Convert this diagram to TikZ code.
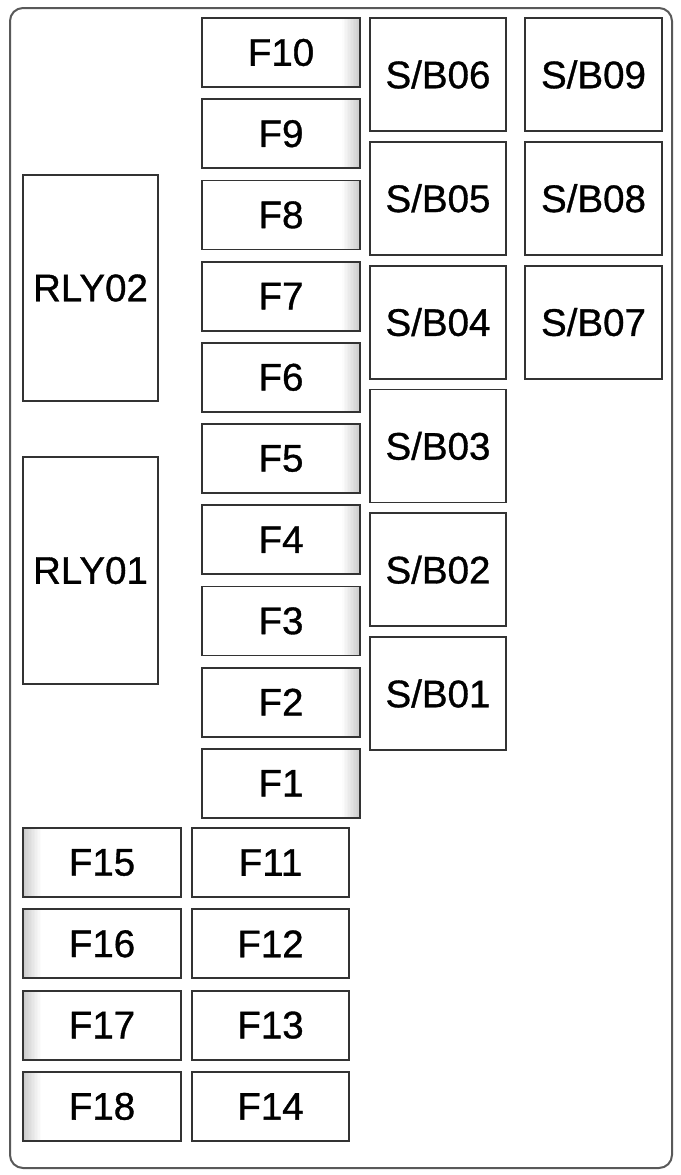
\documentclass[tikz,border=0pt]{standalone}
\usepackage{fontspec}
\setmainfont{Liberation Sans}
\newfontfamily\labfont{Liberation Sans}[FakeBold=0.9]
\begin{document}
\begin{tikzpicture}[x=1pt,y=-1pt,
  box/.style={draw=black!80,line width=1.8pt,fill=white,rectangle,inner sep=0pt,
    font=\labfont\fontsize{38.5}{38.5}\selectfont},
  fuse/.style={box,minimum width=158pt,minimum height=69pt},
  fuseR/.style={fuse,path picture={\foreach \k in {0,...,11}{
    \pgfmathsetmacro\g{20-\k*1.7}
    \fill[black!\g] ([xshift={-(\k+1)*1.5pt}]path picture bounding box.north east) rectangle ([xshift={-\k*1.5pt}]path picture bounding box.south east);}}},
  fuseL/.style={fuse,path picture={\foreach \k in {0,...,11}{
    \pgfmathsetmacro\g{20-\k*1.7}
    \fill[black!\g] ([xshift={\k*1.5pt}]path picture bounding box.north west) rectangle ([xshift={(\k+1)*1.5pt}]path picture bounding box.south west);}}},
  sbox/.style={box,minimum width=136pt,minimum height=113pt},
  relay/.style={box,minimum width=135pt,minimum height=226pt}]
\useasboundingbox (0,0) rectangle (680,1175);
\draw[black!65,line width=2pt,rounded corners=13pt] (10,8) rectangle (672,1168);
% top fuse column
\foreach \n [count=\i from 0] in {10,9,8,7,6,5,4,3,2,1}
  \node[fuseR] (F\n) at (281,{18+81.2*\i+34.5}) {F\n};
% S/B column 1
\foreach \n [count=\i from 0] in {06,05,04,03,02,01}
  \node[sbox] (SB\n) at (438,{18+123.8*\i+56.5}) {S/B\n};
% S/B column 2
\foreach \n [count=\i from 0] in {09,08,07}
  \node[sbox,minimum width=137pt] (SB\n) at (593.5,{18+123.8*\i+56.5}) {S/B\n};
% relays
\node[relay] (RLY02) at (90.5,288) {RLY02};
\node[relay,minimum height=227pt] (RLY01) at (90.5,570.5) {RLY01};
% bottom fuses
\foreach \n [count=\i from 0] in {15,16,17,18}
  \node[fuseL] (F\n) at (102,{828+81.3*\i+34.5}) {F\n};
\foreach \n [count=\i from 0] in {11,12,13,14}
  \node[fuse,minimum width=157pt] (F\n) at (270.5,{828+81.3*\i+34.5}) {F\n};
\end{tikzpicture}
\end{document}
